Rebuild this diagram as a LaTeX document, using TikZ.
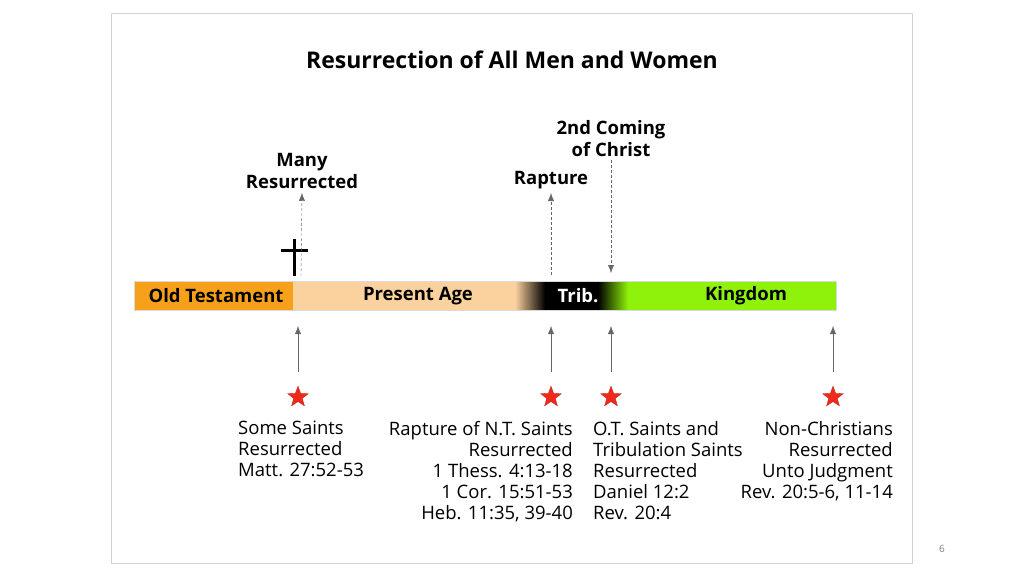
\documentclass[tikz,border=0pt]{standalone}
\usepackage{fontspec}
\setmainfont{Open Sans}
\usetikzlibrary{calc,shapes.geometric}
\definecolor{oldt}{HTML}{F7A11A}
\definecolor{peach}{HTML}{FBD19E}
\definecolor{kgreen}{HTML}{8FF20A}
\definecolor{starred}{HTML}{F02A1A}
\tikzset{
  lbl/.style={font=\fontsize{18.5}{22}\selectfont\bfseries, align=center, inner sep=1pt},
  txt/.style={font=\fontsize{18.5}{21}\selectfont, anchor=north, inner sep=0pt},
  uparrow/.style={gray!80!black, thin, -{Latex[length=8pt,width=6pt]}},
  dasharrow/.style={gray!80!black, thin, densely dashed, -{Latex[length=8pt,width=6pt]}},
  redstar/.style={star, star points=5, star point ratio=2.4, fill=starred, draw=starred!70!black, very thin, minimum size=22pt, inner sep=0pt}
}
\usetikzlibrary{arrows.meta}
\begin{document}
\begin{tikzpicture}[x=1pt, y=-1pt]
\useasboundingbox (0,0) rectangle (1024,576);
\fill[white] (0,0) rectangle (1024,576);
\draw[gray!35] (111,13) rectangle (912,563);
\node[font=\fontsize{23}{26}\selectfont\bfseries] (title) at (512,60) {Resurrection of All Men and Women};
\node[font=\fontsize{10}{12}\selectfont, gray] (page) at (942,549) {6};
% the bar
\fill[oldt] (134,281) rectangle (293,310);
\fill[peach] (293,281) rectangle (515,310);
\shade[left color=peach, right color=black] (515,281) rectangle (545,310);
\fill[black] (545,281) rectangle (598,310);
\shade[left color=black, right color=kgreen] (598,281) rectangle (628,310);
\fill[kgreen] (628,281) rectangle (836,310);
\draw[gray!30] (134,281) rectangle (836,310);
\node[lbl] (ot) at (216,296) {Old Testament};
\node[lbl] (pa) at (418,296) {Present Age};
\node[lbl, white] (trib) at (578,296) {Trib.};
\node[lbl] (kg) at (746,296) {Kingdom};
% the cross
\draw[line width=3pt] (294,239) -- (294,276);
\draw[line width=3pt] (281,250) -- (308,250);
% above the bar
\node[lbl] (many) at (302,171) {Many\\Resurrected};
\node[lbl] (rapt) at (551,180) {Rapture};
\node[lbl] (second) at (611,139) {2nd Coming\\of Christ};
\coordinate (c1) at (301,276);
\coordinate (c2) at (551,275);
\coordinate (c3) at (611,273);
\draw[dasharrow] (c1) -- ($(many.south)+(0,3)$);
\draw[dasharrow] (c2) -- ($(rapt.south)+(0,3)$);
\draw[dasharrow] ($(second.south)+(0,2)$) -- (c3);
% below the bar
\foreach \x/\n in {298/a, 551/b, 611/c, 833/d} {
  \node[redstar] (s\n) at (\x,397) {};
  \coordinate (t\n) at (\x,326);
  \draw[uparrow] ($(s\n)+(0,-25)$) -- (t\n);
}
\node[txt, anchor=north west, align=left] (some) at (238,421) {Some Saints\\Resurrected\\Matt. 27:52-53};
\node[txt, anchor=north east, align=right] (rapn) at (573,421) {Rapture of N.T. Saints\\Resurrected\\1 Thess. 4:13-18\\1 Cor. 15:51-53\\Heb. 11:35, 39-40};
\node[txt, anchor=north west, align=left] (ots) at (593,421) {O.T. Saints and\\Tribulation Saints\\Resurrected\\Daniel 12:2\\Rev. 20:4};
\node[txt, anchor=north east, align=right] (nonc) at (893,421) {Non-Christians\\Resurrected\\Unto Judgment\\Rev. 20:5-6, 11-14};
\end{tikzpicture}
\end{document}
